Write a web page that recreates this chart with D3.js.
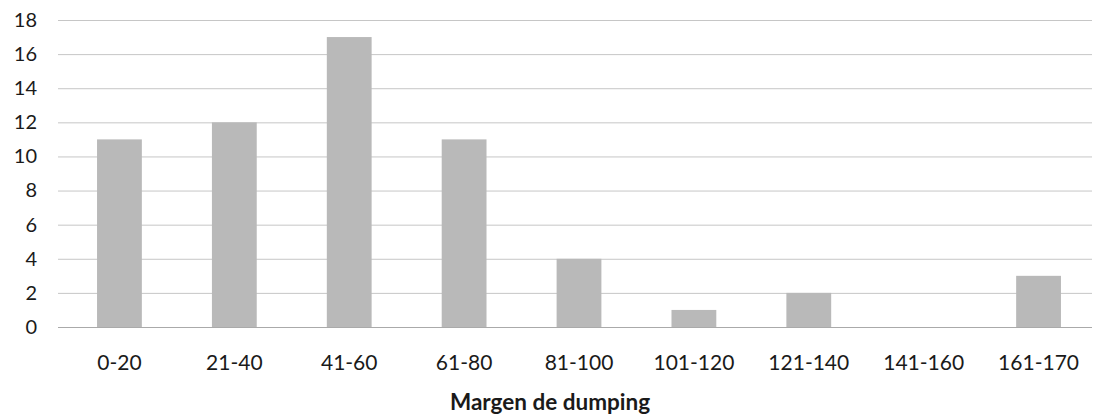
<!DOCTYPE html>
<html>
<head>
<meta charset="utf-8">
<script src="https://cdn.jsdelivr.net/npm/d3@7"></script>
<style>
  html, body { margin: 0; padding: 0; background: #fff; }
  svg { display: block; }
</style>
</head>
<body>
<svg id="chart" width="1096" height="419"></svg>
<script>
// Number of cases per dumping-margin bracket
const categories = ["0-20", "21-40", "41-60", "61-80", "81-100", "101-120", "121-140", "141-160", "161-170"];
const counts = [11, 12, 17, 11, 4, 1, 2, 0, 3];
const yTicks = [0, 2, 4, 6, 8, 10, 12, 14, 16, 18];
const xTitle = "Margen de dumping";

const svg = d3.select("#chart");
const font = "Lato, 'Open Sans', sans-serif";

const plot = { left: 62, right: 1096, top: 20, bottom: 327 };

const x = d3.scaleBand().domain(categories).range([plot.left, plot.right]).paddingInner(0.61).paddingOuter(0.305);
const y = d3.scaleLinear().domain([0, 18]).range([plot.bottom, plot.top]);

// horizontal gridlines
svg.append("g")
  .selectAll("line")
  .data(yTicks)
  .join("line")
  .attr("x1", 58)
  .attr("x2", 1092)
  .attr("y1", d => y(d) + 0.5)
  .attr("y2", d => y(d) + 0.5)
  .attr("stroke", d => d === 0 ? "#aaaaaa" : "#c6c6c6")
  .attr("stroke-width", 1);

// bars
svg.append("g")
  .selectAll("rect")
  .data(categories.map((c, i) => ({ c, v: counts[i] })))
  .join("rect")
  .attr("x", d => x(d.c))
  .attr("width", x.bandwidth())
  .attr("y", d => y(d.v))
  .attr("height", d => y(0) - y(d.v))
  .attr("fill", "#b9b9b9");

// y axis labels
const yAxis = d3.axisLeft(y).tickValues(yTicks).tickSize(0).tickPadding(0);
const gy = svg.append("g").attr("transform", "translate(37,0)").call(yAxis);
gy.select(".domain").remove();
gy.selectAll("text")
  .attr("font-family", font)
  .attr("font-size", 20)
  .attr("fill", "#1a1a1a");

// x axis labels
const xAxis = d3.axisBottom(x).tickSize(0).tickPadding(0);
const gx = svg.append("g").attr("transform", "translate(0,355)").call(xAxis);
gx.select(".domain").remove();
gx.selectAll("text")
  .attr("font-family", font)
  .attr("font-size", 21)
  .attr("fill", "#1a1a1a");

// axis title
svg.append("text")
  .attr("x", 550)
  .attr("y", 410)
  .attr("text-anchor", "middle")
  .attr("font-family", font)
  .attr("font-size", 22.5)
  .attr("font-weight", "bold")
  .attr("fill", "#1a1a1a")
  .text(xTitle);
</script>
</body>
</html>
